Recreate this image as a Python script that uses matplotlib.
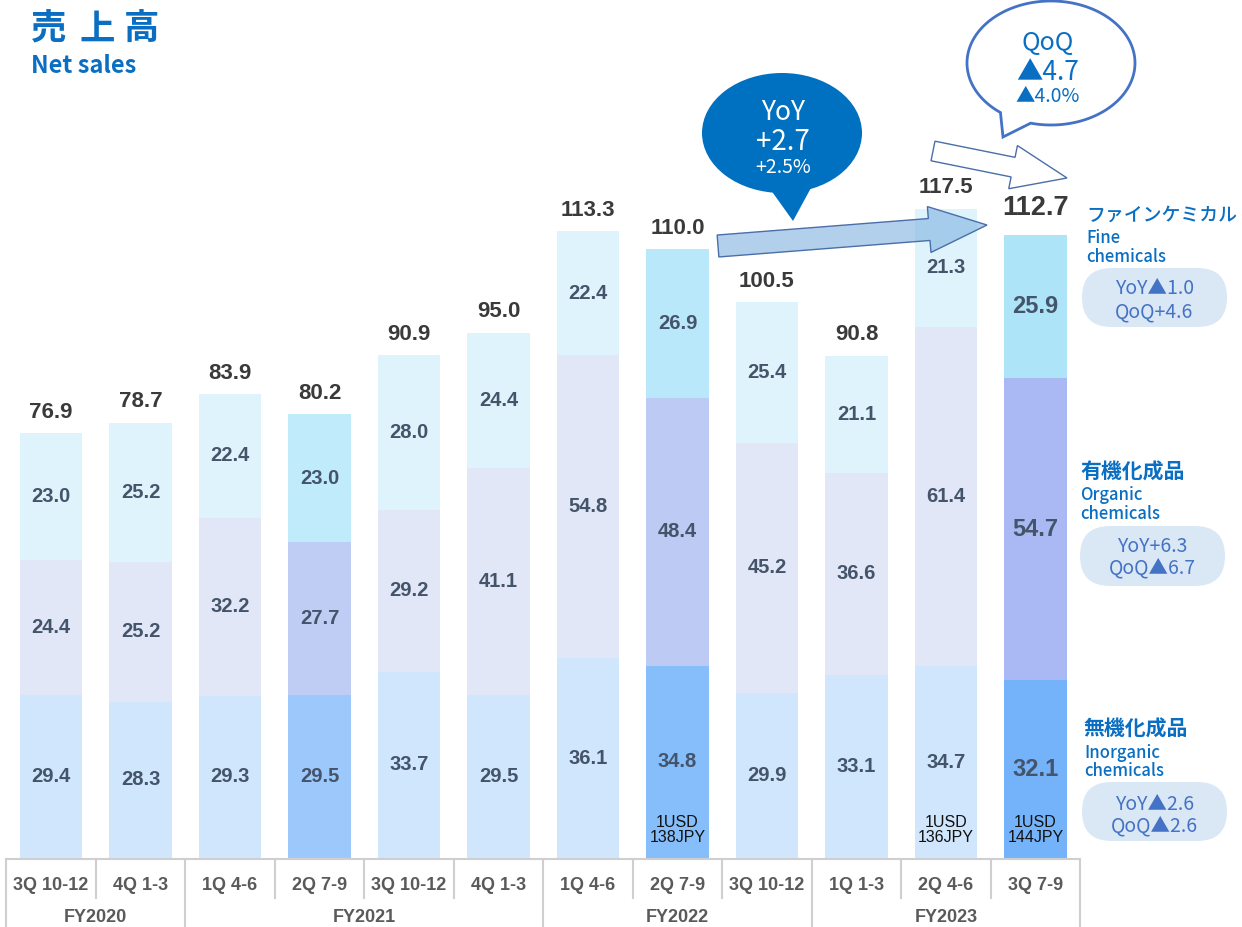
import numpy as np
import matplotlib
matplotlib.use("Agg")
import matplotlib.pyplot as plt
from matplotlib.patches import Ellipse, Polygon, FancyArrow, FancyBboxPatch, PathPatch
from matplotlib.path import Path

# ---------------- data ----------------
quarters = ["3Q 10-12", "4Q 1-3", "1Q 4-6", "2Q 7-9", "3Q 10-12", "4Q 1-3",
            "1Q 4-6", "2Q 7-9", "3Q 10-12", "1Q 1-3", "2Q 4-6", "3Q 7-9"]
fiscal_years = ["FY2020", "FY2021", "FY2022", "FY2023"]
fy_counts = [2, 4, 3, 3]
inorganic = [29.4, 28.3, 29.3, 29.5, 33.7, 29.5, 36.1, 34.8, 29.9, 33.1, 34.7, 32.1]
organic = [24.4, 25.2, 32.2, 27.7, 29.2, 41.1, 54.8, 48.4, 45.2, 36.6, 61.4, 54.7]
fine = [23.0, 25.2, 22.4, 23.0, 28.0, 24.4, 22.4, 26.9, 25.4, 21.1, 21.3, 25.9]
totals = [76.9, 78.7, 83.9, 80.2, 90.9, 95.0, 113.3, 110.0, 100.5, 90.8, 117.5, 112.7]
usd_notes = {7: "1USD\n138JPY", 10: "1USD\n136JPY", 11: "1USD\n144JPY"}

# ---------------- styling ----------------
JP = ["Noto Sans CJK JP", "DejaVu Sans"]
NUM = ["Liberation Sans", "DejaVu Sans"]
BLUE = "#0a6fc2"
SEG_TXT = "#44546a"
TOT_TXT = "#3a3a3a"

faded = ("#d0e6fc", "#e1e7f7", "#dff3fc")
highlight = {3: ("#9cc8fb", "#bfcdf5", "#bfebfa"),
             7: ("#85befa", "#bccaf4", "#b8e8f9"),
             11: ("#74b3fa", "#aab9f3", "#aee4f8")}

W, H = 1242, 927
X0, DX = 51.0, 89.5      # pixel centre of first bar, spacing
Y0, SY = 858.0, 5.53     # pixel baseline, pixels per unit

fig = plt.figure(figsize=(W / 100, H / 100), dpi=100)
ax = fig.add_axes([0, 0, 1, 1])
ax.axis("off")
ax.set_xlim((0 - X0) / DX, (W - X0) / DX)
ax.set_ylim(-(H - Y0) / SY, Y0 / SY)

n = len(quarters)
xs = np.arange(n)
c_in = [highlight.get(i, faded)[0] for i in range(n)]
c_or = [highlight.get(i, faded)[1] for i in range(n)]
c_fi = [highlight.get(i, faded)[2] for i in range(n)]

inorganic_a = np.array(inorganic)
organic_a = np.array(organic)
fine_a = np.array(fine)
ax.bar(xs, inorganic_a, width=0.7, color=c_in, linewidth=0)
ax.bar(xs, organic_a, width=0.7, bottom=inorganic_a, color=c_or, linewidth=0)
ax.bar(xs, fine_a, width=0.7, bottom=inorganic_a + organic_a, color=c_fi, linewidth=0)

for i in range(n):
    big = (i == n - 1)
    fs = 17 if big else 14.5
    b0 = inorganic_a[i]
    b1 = b0 + organic_a[i]
    b2 = b1 + fine_a[i]
    for v, mid in ((inorganic[i], b0 / 2), (organic[i], (b0 + b1) / 2), (fine[i], (b1 + b2) / 2)):
        ax.text(i, mid, f"{v:.1f}", ha="center", va="center", fontsize=fs,
                fontweight="bold", color=SEG_TXT, family=NUM)
    off = 27 if big else 21
    ax.text(i, b2 + off / SY, f"{totals[i]:.1f}", ha="center", va="center",
            fontsize=19.5 if big else 16, fontweight="bold", color=TOT_TXT, family=NUM)

# ---------------- overlay in pixel coordinates ----------------
ov = fig.add_axes([0, 0, 1, 1])
ov.axis("off")
ov.set_xlim(0, W)
ov.set_ylim(H, 0)


def px(i):
    return X0 + DX * i


for i, note in usd_notes.items():
    ov.text(px(i), 830, note, ha="center", va="center", fontsize=11.5,
            color="#111111", family=NUM, linespacing=1.05)

# category table
GRID = "#cfcfcf"
left, right = px(-0.5), px(n - 0.5)
ov.plot([left, right], [859, 859], color=GRID, lw=1.5, solid_capstyle="butt")
bounds = np.cumsum([0] + fy_counts)
for k in range(n + 1):
    xb = px(k - 0.5)
    y_end = 927 if k in bounds else 898
    ov.plot([xb, xb], [859, y_end], color=GRID, lw=1.5)
for i, q in enumerate(quarters):
    ov.text(px(i), 885, q, ha="center", va="center", fontsize=13, fontweight="bold",
            color="#5a5a5a", family=NUM)
for g, fy in enumerate(fiscal_years):
    c = (px(bounds[g] - 0.5) + px(bounds[g + 1] - 0.5)) / 2
    ov.text(c, 918, fy, ha="center", va="center", fontsize=13, fontweight="bold",
            color="#5a5a5a", family=NUM)

# title
for ch, cx in zip("売上高", (49, 97, 142)):
    ov.text(cx, 29, ch, ha="center", va="center", fontsize=25.5, fontweight="bold",
            color=BLUE, family=JP)
ov.text(31, 66, "Net sales", ha="left", va="center", fontsize=17, fontweight="bold",
        color=BLUE, family=JP)

# YoY bubble (filled)
ov.add_patch(Ellipse((782, 133), 160, 120, facecolor="#0070c0", edgecolor="none"))
ov.add_patch(Polygon([(768, 186), (812, 186), (793, 221)], closed=True,
                     facecolor="#0070c0", edgecolor="none"))
ov.text(783, 112, "YoY", ha="center", va="center", fontsize=19, color="white", family=JP)
ov.text(783, 142, "+2.7", ha="center", va="center", fontsize=20, color="white", family=JP)
ov.text(783, 167, "+2.5%", ha="center", va="center", fontsize=14, color="white", family=JP)

# QoQ bubble (outlined), built as one path
cx, cy, a, b = 1051, 63, 84, 62
t1, t2 = np.deg2rad(127), np.deg2rad(104 + 360)
ts = np.linspace(t1, t2, 200)
pts = [(cx + a * np.cos(t), cy + b * np.sin(t)) for t in ts]
pts.append((1003, 137))
pts.append(pts[0])
codes = [Path.MOVETO] + [Path.LINETO] * (len(pts) - 2) + [Path.CLOSEPOLY]
ov.add_patch(PathPatch(Path(pts, codes), facecolor="white", edgecolor="#4472c4", lw=2))
ov.text(1048, 43, "QoQ", ha="center", va="center", fontsize=18, color=BLUE, family=JP)
ov.text(1048, 72, "▲4.7", ha="center", va="center", fontsize=19, color=BLUE, family=JP)
ov.text(1048, 96, "▲4.0%", ha="center", va="center", fontsize=14, color=BLUE, family=JP)

# arrows
ov.add_patch(FancyArrow(933, 151, 134, 27, width=20, head_width=44, head_length=55,
                        length_includes_head=True, facecolor="white",
                        edgecolor="#4a6ea8", lw=1))
ov.add_patch(FancyArrow(718, 246, 269, -21, width=22, head_width=46, head_length=58,
                        length_includes_head=True, facecolor="#7fb2df", alpha=0.6,
                        edgecolor="none"))
ov.add_patch(FancyArrow(718, 246, 269, -21, width=22, head_width=46, head_length=58,
                        length_includes_head=True, facecolor="none",
                        edgecolor="#4a6ea8", lw=1))

# right-side segment legends
legend_items = [
    ("ファインケミカル", "medium", 1086, 215, ["Fine", "chemicals"], 1086, (238, 257),
     (1082, 268, 145, 59), ("YoY▲1.0", "QoQ+4.6"), (288, 312)),
    ("有機化成品", "bold", 1080, 472, ["Organic", "chemicals"], 1080, (495, 514),
     (1080, 526, 145, 60), ("YoY+6.3", "QoQ▲6.7"), (546, 568)),
    ("無機化成品", "bold", 1083, 729, ["Inorganic", "chemicals"], 1084, (753, 771),
     (1082, 782, 145, 59), ("YoY▲2.6", "QoQ▲2.6"), (804, 826)),
]
for jp, wt, jx, jy, en, ex, eys, box, lines, lys in legend_items:
    ov.text(jx, jy, jp, ha="left", va="center", fontsize=13.6 if wt == "medium" else 15,
            fontweight=wt, color=BLUE, family=JP)
    for t, ey in zip(en, eys):
        ov.text(ex, ey, t, ha="left", va="center", fontsize=12, color=BLUE,
                family=JP, fontweight="medium")
    bx, by, bw, bh = box
    ov.add_patch(FancyBboxPatch((bx, by), bw, bh,
                                boxstyle=f"round,pad=0,rounding_size={bh / 2}",
                                facecolor="#dae8f6", edgecolor="none"))
    for t, ly in zip(lines, lys):
        ov.text(bx + bw / 2, ly, t, ha="center", va="center", fontsize=14,
                color="#4472c4", family=JP)

fig.savefig("out.png", dpi=100)
